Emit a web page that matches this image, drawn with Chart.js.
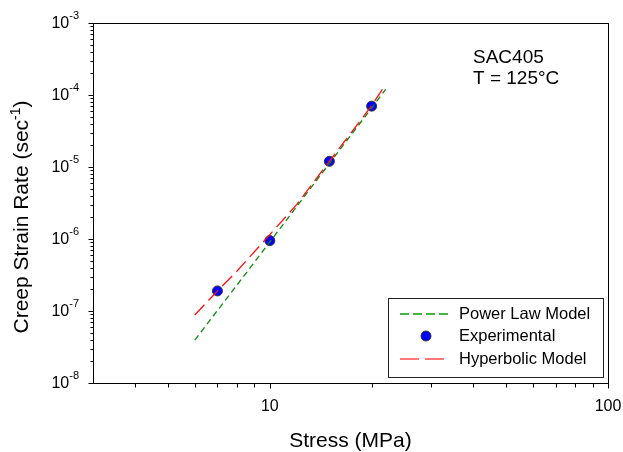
<!DOCTYPE html>
<html>
<head>
<meta charset="utf-8">
<script src="https://cdn.jsdelivr.net/npm/chart.js@4"></script>
<style>
body{margin:0;background:#fff}
#wrap{width:623px;height:452px}
</style>
</head>
<body>
<div id="wrap"><canvas id="creep"></canvas></div>
<script>
// experimental points
var exp_stress = [7, 10, 15, 20];
var exp_rate = [1.9e-7, 9.5e-7, 1.2e-5, 7.0e-5];
// power law fit
var power_stress = [6, 8, 10, 15, 20, 22];
var power_rate = [3.95e-8, 2.3e-7, 9.1e-7, 1.12e-5, 6.6e-5, 1.2e-4];
// hyperbolic fit
var hyper_stress = [6, 7, 8, 10, 12, 15, 18, 20, 22];
var hyper_rate = [8.8e-8, 1.9e-7, 3.6e-7, 1.15e-6, 3.0e-6, 1.2e-5, 3.7e-5, 7.1e-5, 1.4e-4];
// axis ticks
var x_ticks = [10, 100];
var x_tick_labels = ['10', '100'];
var y_exponents = [-8, -7, -6, -5, -4, -3];

var FONT = '"Liberation Sans", Arial, sans-serif';

function pts(xs, ys){
    var out = [];
    for(var i=0;i<xs.length;i++){
        out.push({x: xs[i], y: ys[i]});
    }
    return out;
}

function crisp(v){ return Math.round(v) + 0.5; }

var decor = {
    id: 'decor',
    afterDraw: function(chart){
        var ctx = chart.ctx;
        var a = chart.chartArea;
        var xs = chart.scales.x, ys = chart.scales.y;
        var L = crisp(a.left), R = crisp(a.right), T = crisp(a.top), B = crisp(a.bottom);
        ctx.save();
        ctx.strokeStyle = '#000';
        ctx.fillStyle = '#000';
        ctx.lineWidth = 1;
        ctx.setLineDash([]);
        ctx.strokeRect(L, T, R - L, B - T);

        // x ticks
        ctx.beginPath();
        var d, m, px;
        for(d=1; d<=10; d*=10){
            for(m=1; m<10; m++){
                var v = m * d;
                if(v <= 3 || v > 100) continue;
                px = crisp(xs.getPixelForValue(v));
                var len = (m == 1) ? 5 : 4;
                ctx.moveTo(px, B); ctx.lineTo(px, B + len);
            }
        }
        ctx.moveTo(R, B); ctx.lineTo(R, B + 5);
        // y ticks
        for(var e=-8; e<=-3; e++){
            for(m=1; m<10; m++){
                if(e == -3 && m > 1) break;
                var py = crisp(ys.getPixelForValue(m * Math.pow(10, e)));
                var ylen = (m == 1) ? 5 : 3;
                ctx.moveTo(L, py); ctx.lineTo(L - ylen, py);
            }
        }
        ctx.stroke();

        // x tick labels
        ctx.font = '16px ' + FONT;
        ctx.textAlign = 'center';
        ctx.textBaseline = 'alphabetic';
        for(var i=0;i<x_ticks.length;i++){
            ctx.fillText(x_tick_labels[i], xs.getPixelForValue(x_ticks[i]), 411);
        }

        // y tick labels 10^n
        for(i=0;i<y_exponents.length;i++){
            var yy = ys.getPixelForValue(Math.pow(10, y_exponents[i]));
            var sup = String(y_exponents[i]);
            ctx.font = '11px ' + FONT;
            var sw = ctx.measureText(sup).width;
            ctx.textAlign = 'left';
            ctx.fillText(sup, 79 - sw, yy - 4);
            ctx.font = '16px ' + FONT;
            ctx.textAlign = 'right';
            ctx.fillText('10', 79 - sw, yy + 5);
        }

        // axis titles
        ctx.font = '21px ' + FONT;
        ctx.textAlign = 'center';
        ctx.fillText('Stress (MPa)', (a.left + a.right) / 2, 447);

        ctx.save();
        ctx.translate(28, 217);
        ctx.rotate(-Math.PI / 2);
        var t1 = 'Creep Strain Rate (sec', t2 = '-1', t3 = ')';
        ctx.font = '21px ' + FONT;
        var w1 = ctx.measureText(t1).width, w3 = ctx.measureText(t3).width;
        ctx.font = '14px ' + FONT;
        var w2 = ctx.measureText(t2).width;
        var x0 = -(w1 + w2 + w3) / 2;
        ctx.textAlign = 'left';
        ctx.font = '21px ' + FONT;
        ctx.fillText(t1, x0, 0);
        ctx.fillText(t3, x0 + w1 + w2, 0);
        ctx.font = '14px ' + FONT;
        ctx.fillText(t2, x0 + w1, -8);
        ctx.restore();

        // annotation
        ctx.font = '19px ' + FONT;
        ctx.textAlign = 'left';
        ctx.fillText('SAC405', 473, 63);
        ctx.fillText('T = 125\u00B0C', 473, 84);

        // legend box
        ctx.strokeStyle = '#222';
        ctx.strokeRect(388.5, 298.5, 215, 79);
        var ds = chart.data.datasets;
        var rows = [{d: ds[0], y: 314}, {d: ds[1], y: 336}, {d: ds[2], y: 359}];
        for(i=0;i<rows.length;i++){
            var s = rows[i].d;
            if(s.showLine){
                ctx.strokeStyle = s.legendColor;
                ctx.lineWidth = s.legendWidth;
                ctx.setLineDash(s.legendDash);
                ctx.beginPath();
                ctx.moveTo(400, rows[i].y);
                ctx.lineTo(s.legendEnd, rows[i].y);
                ctx.stroke();
                ctx.setLineDash([]);
                ctx.lineWidth = 1;
            } else {
                ctx.beginPath();
                ctx.arc(426, rows[i].y, 5, 0, Math.PI * 2);
                ctx.fillStyle = s.pointBackgroundColor;
                ctx.fill();
                ctx.strokeStyle = s.pointBorderColor;
                ctx.stroke();
            }
            ctx.fillStyle = '#000';
            ctx.font = '16.5px ' + FONT;
            ctx.fillText(s.label, 459, rows[i].y + 5);
        }
        ctx.restore();
    }
};

var creep = document.getElementById('creep').getContext('2d');

new Chart(creep, {
    type: 'scatter',
    data: {
        datasets: [{
            label: 'Power Law Model',
            data: pts(power_stress, power_rate),
            showLine: true,
            borderColor: '#0a8a0a',
            borderWidth: 1.3,
            borderDash: [6, 4],
            legendColor: '#0a9a0a',
            legendWidth: 1.3,
            legendDash: [9, 4],
            legendEnd: 450,
            pointRadius: 0,
            order: 2
        }, {
            label: 'Experimental',
            data: pts(exp_stress, exp_rate),
            showLine: false,
            pointRadius: 5,
            pointBackgroundColor: '#0000ff',
            pointBorderColor: '#333',
            pointBorderWidth: 1,
            order: 3
        }, {
            label: 'Hyperbolic Model',
            data: pts(hyper_stress, hyper_rate),
            showLine: true,
            borderColor: '#ff1010',
            borderWidth: 1.3,
            borderDash: [14, 6],
            legendColor: '#ff7878',
            legendWidth: 2,
            legendDash: [19, 6],
            legendEnd: 445,
            pointRadius: 0,
            order: 1
        }]
    },
    options: {
        responsive: true,
        maintainAspectRatio: false,
        animation: false,
        layout: {padding: {left: 93, top: 23, right: 15, bottom: 69}},
        plugins: {legend: {display: false}, tooltip: {enabled: false}},
        scales: {
            x: {type: 'logarithmic', min: 3, max: 100, display: false},
            y: {type: 'logarithmic', min: 1e-8, max: 1e-3, display: false}
        }
    },
    plugins: [decor]
});
</script>
</body>
</html>
